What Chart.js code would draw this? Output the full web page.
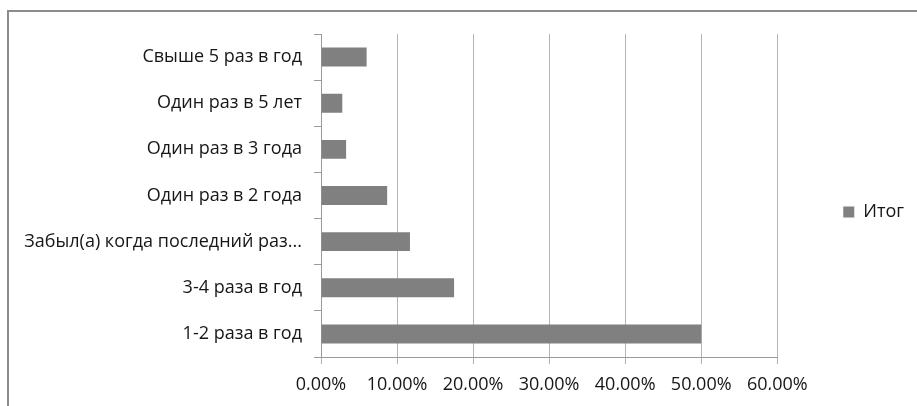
<!DOCTYPE html>
<html>
<head>
<meta charset="utf-8">
<script src="https://cdn.jsdelivr.net/npm/chart.js@4/dist/chart.umd.min.js"></script>
<style>
  html, body { margin: 0; padding: 0; background: #fff; overflow: hidden; }
  #wrap { position: relative; width: 917px; height: 406px; }
  #frame {
    position: absolute; left: 7px; top: 10px; width: 960px; height: 460px;
    border: 2px solid #8c8c8c; pointer-events: none;
  }
  canvas { position: absolute; left: 0; top: 0; }
</style>
</head>
<body>
<div id="wrap">
  <canvas id="myChart" width="917" height="406"></canvas>
  <div id="frame"></div>
</div>
<script>
// answers, top to bottom
const categories = [
    'Свыше 5 раз в год',
    'Один раз в 5 лет',
    'Один раз в 3 года',
    'Один раз в 2 года',
    'Забыл(а) когда последний раз...',
    '3-4 раза в год',
    '1-2 раза в год'
];
// share of respondents, %
const totals = [6.0, 2.8, 3.3, 8.7, 11.7, 17.5, 50.0];
const seriesName = 'Итог';
const xTicks = [0, 10, 20, 30, 40, 50, 60];

const font = { family: '"Open Sans", sans-serif', size: 18 };
const textColor = '#161616';

const config = {
    type: 'bar',
    data: {
        labels: categories,
        datasets: [{
            label: seriesName,
            data: totals,
            backgroundColor: '#808080',
            borderWidth: 0,
            barPercentage: 0.41,
            categoryPercentage: 1
        }]
    },
    options: {
        indexAxis: 'y',
        responsive: false,
        animation: false,
        events: [],
        layout: {
            padding: { left: 0, top: 34, right: 3, bottom: 16 }
        },
        scales: {
            x: {
                min: xTicks[0],
                max: xTicks[xTicks.length - 1],
                afterBuildTicks: (scale) => {
                    scale.ticks = xTicks.map(v => ({ value: v }));
                },
                afterFit: (scale) => { scale.height = 33; },
                ticks: {
                    font: font,
                    color: textColor,
                    padding: 10,
                    callback: (v) => v.toFixed(2).replace('.', ',') + '%'
                },
                grid: {
                    color: '#b4b4b4',
                    lineWidth: 1,
                    tickLength: 7
                },
                border: { color: '#9a9a9a', width: 1 }
            },
            y: {
                afterFit: (scale) => { scale.width = 321; },
                ticks: {
                    font: font,
                    color: textColor,
                    padding: 12
                },
                grid: {
                    offset: true,
                    drawOnChartArea: false,
                    color: '#9a9a9a',
                    tickLength: 7
                },
                border: { color: '#9a9a9a', width: 1 }
            }
        },
        plugins: {
            legend: {
                position: 'right',
                labels: {
                    font: font,
                    color: textColor,
                    boxWidth: 11,
                    boxHeight: 11,
                    padding: 66
                }
            },
            tooltip: { enabled: false }
        }
    }
};

new Chart(document.getElementById('myChart'), config);
</script>
</body>
</html>
